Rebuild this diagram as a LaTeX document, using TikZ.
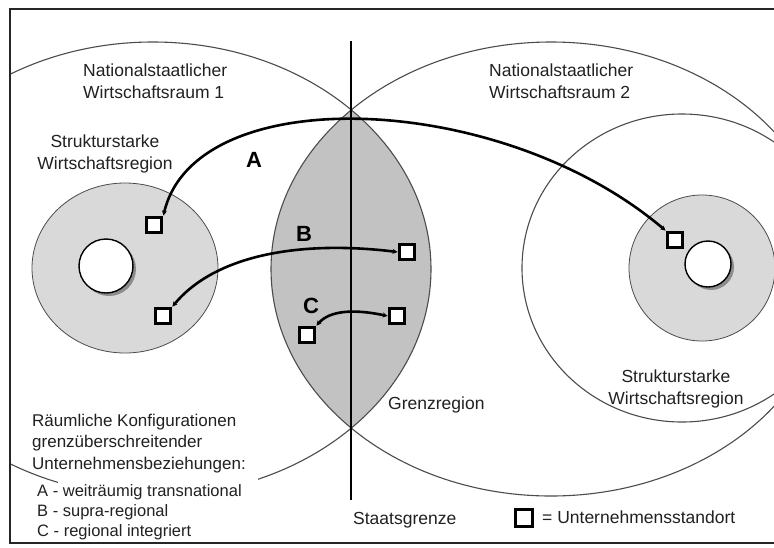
\documentclass[tikz,border=0pt]{standalone}
\usepackage{fontspec}
\setmainfont{Liberation Sans}
\usetikzlibrary{arrows.meta}
\definecolor{diskgray}{gray}{0.85}
\definecolor{lensgray}{gray}{0.76}
\definecolor{linegray}{gray}{0.3}
\definecolor{textc}{gray}{0.13}
\definecolor{shadowgray}{gray}{0.55}
\tikzset{
  lbl/.style={font=\fontsize{17.5}{22}\selectfont, text=textc, inner sep=0pt},
  leg/.style={font=\fontsize{16.5}{20}\selectfont, text=textc, inner sep=0pt, align=left},
  letter/.style={font=\fontsize{22}{22}\selectfont\bfseries, text=black, inner sep=0pt},
  sq/.style={draw=black, line width=3.3pt, fill=white, minimum size=15.5pt, inner sep=0pt},
  conn/.style={line width=2.6pt, black, {Stealth[length=5pt,width=5pt]}-{Stealth[length=5pt,width=5pt]}},
  outline/.style={draw=linegray, line width=1.1pt},
}
\begin{document}
\begin{tikzpicture}[x=1pt,y=-1pt]
\useasboundingbox (0,0) rectangle (774,547);
\fill[white] (0,0) rectangle (774,547);

\begin{scope}
  \clip (10,9) rectangle (774,543);
  % border region (lens)
  \begin{scope}
    \clip (153,269) ellipse [x radius=278, y radius=227];
    \fill[lensgray] (551,269) ellipse [x radius=280, y radius=227];
  \end{scope}
  % strong economic regions (gray disks)
  \fill[diskgray] (125,268) ellipse [x radius=93, y radius=85];
  \draw[outline, line width=0.8pt] (125,268) ellipse [x radius=93, y radius=85];
  \fill[diskgray] (702,268) circle [radius=73];
  \draw[outline, line width=0.8pt] (702,268) circle [radius=73];
  % centres with shadow
  \fill[shadowgray] (109,269) circle [radius=27];
  \fill[white] (106,266) circle [radius=27];
  \draw[black, line width=1.4pt] (106,266) circle [radius=27];
  \fill[shadowgray] (711,267) circle [radius=23];
  \fill[white] (708,264) circle [radius=23];
  \draw[black, line width=1.4pt] (708,264) circle [radius=23];
  % national economic areas
  \draw[outline] (153,269) ellipse [x radius=278, y radius=227];
  \draw[outline] (551,269) ellipse [x radius=280, y radius=227];
  % strong region 2 (outer ellipse)
  \draw[outline] (682,268) ellipse [x radius=160, y radius=154];
\end{scope}

% white area behind the legend list
\fill[white] (58,474) rectangle (258,541);

% frame
\draw[black!85, line width=1.8pt] (774,9) -- (10,9) -- (10,543) -- (774,543);

% state border
\coordinate (sgtop) at (351,41);
\coordinate (sgbot) at (351,500);
\draw[black, line width=2.6pt] (sgtop) -- (sgbot);

% company sites
\node[sq] (a1) at (154,225) {};
\node[sq] (a2) at (675,240) {};
\node[sq] (b1) at (163,316) {};
\node[sq] (b2) at (407,252) {};
\node[sq] (c1) at (307,335) {};
\node[sq] (c2) at (397,316) {};

% relations
\draw[conn] (a1.north east) .. controls (195,80) and (500,90) .. (a2.north west);
\draw[conn] (b1.north east) .. controls (215,255) and (300,240) .. (b2.west);
\draw[conn] (c1.north east) .. controls (330,310) and (355,309) .. (c2.west);

% letters
\node[letter] (la) at (254,160) {A};
\node[letter] (lb) at (304,234) {B};
\node[letter] (lc) at (311,306) {C};

% labels
\node[lbl, align=left, anchor=west] (nat1) at (83,81) {Nationalstaatlicher\\Wirtschaftsraum 1};
\node[lbl, align=left, anchor=west] (nat2) at (489,81) {Nationalstaatlicher\\Wirtschaftsraum 2};
\node[lbl, align=center] (str1) at (105,153.5) {Strukturstarke\\Wirtschaftsregion};
\node[lbl, align=center] (str2) at (676,388.5) {Strukturstarke\\Wirtschaftsregion};
\node[lbl, anchor=base west] (grenz) at (388,409) {Grenzregion};
\node[lbl, anchor=base west] (staat) at (353,524) {Staatsgrenze};

% legend
\node[leg, font=\fontsize{17}{21.5}\selectfont, anchor=west] (legt) at (32,443.5) {Räumliche Konfigurationen\\grenzüberschreitender\\Unternehmensbeziehungen:};
\node[leg, anchor=west] (legl) at (37,512) {A - weiträumig transnational\\B - supra-regional\\C - regional integriert};
\node[sq, minimum size=17pt] (legsq) at (524,518) {};
\node[lbl, anchor=base west] (legu) at (542,523.5) {= Unternehmensstandort};
\end{tikzpicture}
\end{document}
